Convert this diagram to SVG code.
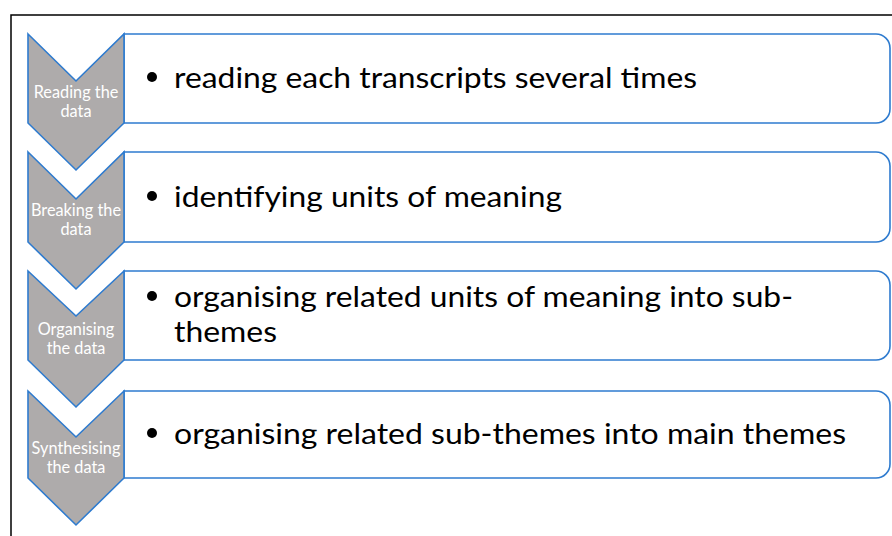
<svg xmlns="http://www.w3.org/2000/svg" width="892" height="536" viewBox="0 0 892 536">
<style>
.frame{fill:none;stroke:#000;stroke-width:1.5}
.chev{fill:#AEABAB;stroke:#2E7BCF;stroke-width:1.6;stroke-linejoin:miter}
.box{fill:#fff;stroke:#2E7BCF;stroke-width:1.6}
.lbl{font-family:Lato,"Open Sans",sans-serif;font-size:16.3px;fill:#fff;text-anchor:middle}
.txt{font-family:Lato,"Open Sans",sans-serif;font-size:29.5px;fill:#000}
.dot{fill:#000}
</style>
<rect width="892" height="536" fill="#fff"/>
<path class="frame" d="M11,536 V15 H892"/>
<g id="connectors"></g>
<g id="step1">
<path class="box" d="M124,34 H876 A14,14 0 0 1 890,48 V109 A14,14 0 0 1 876,123 H124 Z"/>
<path class="chev" d="M28,34 L76,81 L124,34 L124,123 L76,170 L28,123 Z"/>
<text class="lbl" x="76" y="98">Reading the</text>
<text class="lbl" x="76" y="117">data</text>
<circle class="dot" cx="152" cy="77" r="5"/>
<text class="txt" x="174" y="88" textLength="523" lengthAdjust="spacingAndGlyphs">reading each transcripts several times</text>
</g>
<g id="step2">
<path class="box" d="M124,152 H876 A14,14 0 0 1 890,166 V228 A14,14 0 0 1 876,242 H124 Z"/>
<path class="chev" d="M28,152 L76,199 L124,152 L124,242 L76,289 L28,242 Z"/>
<text class="lbl" x="76" y="216">Breaking the</text>
<text class="lbl" x="76" y="235">data</text>
<circle class="dot" cx="152" cy="196" r="5"/>
<text class="txt" x="174" y="207" textLength="388" lengthAdjust="spacingAndGlyphs">identifying units of meaning</text>
</g>
<g id="step3">
<path class="box" d="M124,271 H876 A14,14 0 0 1 890,285 V346 A14,14 0 0 1 876,360 H124 Z"/>
<path class="chev" d="M28,271 L76,316 L124,271 L124,360 L76,407 L28,360 Z"/>
<text class="lbl" x="76" y="335">Organising</text>
<text class="lbl" x="76" y="354">the data</text>
<circle class="dot" cx="152" cy="296" r="5"/>
<text class="txt" x="174" y="307" textLength="619" lengthAdjust="spacingAndGlyphs">organising related units of meaning into sub-</text>
<text class="txt" x="174" y="342" textLength="103" lengthAdjust="spacingAndGlyphs">themes</text>
</g>
<g id="step4">
<path class="box" d="M124,391 H876 A14,14 0 0 1 890,405 V464 A14,14 0 0 1 876,478 H124 Z"/>
<path class="chev" d="M28,391 L76,437 L124,391 L124,478 L76,525 L28,478 Z"/>
<text class="lbl" x="76" y="454">Synthesising</text>
<text class="lbl" x="76" y="473">the data</text>
<circle class="dot" cx="152" cy="433" r="5"/>
<text class="txt" x="174" y="444" textLength="672" lengthAdjust="spacingAndGlyphs">organising related sub-themes into main themes</text>
</g>
</svg>
